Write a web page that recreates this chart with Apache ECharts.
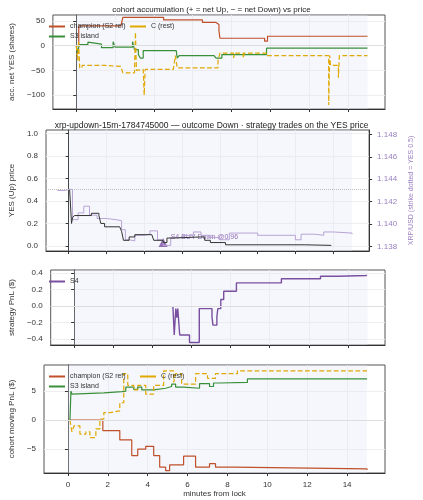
<!DOCTYPE html>
<html><head><meta charset="utf-8">
<script src="https://cdn.jsdelivr.net/npm/echarts@6/dist/echarts.min.js"></script>
<style>html,body{margin:0;background:#fff}#c{width:423px;height:500px}</style>
</head><body><div id="c"></div>
<script>
// panel 1: accumulated net YES shares
var champAccT = [0, 0.13, 2.3, 2.4, 4.5, 6.5, 7.2, 7.35, 7.4, 9.7, 9.85, 15];
var champAccV = [0, 40, 36, 57, 52, 47, 43, 30, 15, 9, 19, 19];
var s3AccT = [0, 0.08, 0.15, 0.6, 0.65, 1.3, 1.9, 2.0, 2.9, 3.0, 3.2, 3.3, 3.45, 5.15, 5.2, 5.3, 7.1, 7.2, 7.5, 9.8, 15];
var s3AccV = [0, -15, 2, 7, 3, -4, 8, -3, 8, -8, -18, -25, -10, -13, -25, -20, -18, -25, -18, -5, -5];
var cAccT = [0, 0.08, 0.12, 0.18, 0.3, 1.5, 2.3, 2.4, 3.0, 3.05, 3.1, 3.2, 3.45, 3.5, 3.55, 3.7, 5.0, 5.1, 5.2, 7.3, 7.4, 8.1, 8.15, 8.6, 8.65, 9.8, 13.0, 13.05, 13.1, 13.5, 13.55, 13.6, 15];
var cAccV = [0, -30, 10, -45, -40, -42, -40, -55, -52, 27, -50, -48, -52, -100, -48, -48, -45, -20, -45, -30, -15, -25, -15, -25, -15, -20, -120, -20, -40, -65, -20, -20, -20];
// panel 2: YES price and XRP
var yesT = [0.05, 0.1, 0.15, 0.2, 0.3, 1.2, 1.6, 1.7, 1.9, 2.7, 2.8, 2.9, 3.2, 3.5, 4.4, 4.5, 5.0, 5.2, 5.5, 7.0, 7.2, 7.5, 8.3, 12.5, 13.9];
var yesV = [0.5, 0.51, 0.2, 0.25, 0.27, 0.29, 0.27, 0.2, 0.17, 0.16, 0.13, 0.05, 0.08, 0.1, 0.09, 0.05, 0.03, 0.07, 0.08, 0.08, 0.05, 0.03, 0.01, 0.005, 0.005];
var xrpT = [-0.6, -0.2, 0.05, 0.2, 0.5, 0.8, 1.1, 1.5, 2.0, 2.5, 2.8, 3.0, 3.2, 3.5, 4.0, 4.3, 4.7, 5.0, 5.4, 6.0, 6.6, 7.0, 7.5, 8.0, 8.5, 9.5, 10.0, 11.5, 12.0, 12.3, 13.0, 13.5, 14.0, 15.0];
var xrpV = [1.1430, 1.1431, 1.1431, 1.1404, 1.1410, 1.1416, 1.1408, 1.1405, 1.1404, 1.1403, 1.1395, 1.1386, 1.1385, 1.1390, 1.1391, 1.1394, 1.1386, 1.1381, 1.1388, 1.1390, 1.1393, 1.1390, 1.1388, 1.1386, 1.1392, 1.1392, 1.1390, 1.1390, 1.1386, 1.1391, 1.1390, 1.1393, 1.1392, 1.1391];
var s4Trade = [5.0, 0.03];
var strike = 0.5;
// panel 3: strategy PnL
var s4T = [5.05, 5.1, 5.12, 5.2, 5.25, 5.3, 5.4, 5.9, 6.4, 7.05, 7.1, 7.3, 7.35, 7.5, 7.65, 8.3, 10.6, 12.6, 13.5, 14.95];
var s4V = [0, -0.02, -0.35, -0.03, -0.14, -0.03, -0.35, -0.44, -0.03, -0.13, -0.23, -0.13, -0.03, 0.08, 0.18, 0.28, 0.33, 0.36, 0.37, 0.38];
// panel 4: moving PnL
var champPnlT = [0.1, 1.75, 2.6, 3.2, 3.5, 3.9, 4.3, 4.6, 4.9, 5.1, 5.8, 6.4, 7.1, 7.4, 8.3, 15];
var champPnlV = [0, -1.8, -3.4, -6.1, -5, -4.5, -6.1, -8.1, -8.7, -7.7, -6.2, -8.1, -7.5, -8.1, -8.4, -8.6];
var s3PnlT = [0.1, 0.15, 0.2, 0.3, 1.8, 1.9, 2.7, 2.9, 3.3, 3.5, 3.7, 4.3, 4.4, 4.9, 5.2, 5.4, 5.8, 6.6, 7.1, 7.3, 7.6, 9.0, 15];
var s3PnlV = [0, 5, 4.5, 4.7, 4.6, 4.9, 5.0, 5.7, 5.3, 5.7, 5.2, 5.1, 5.5, 5.8, 6.2, 5.7, 5.5, 6.3, 5.8, 6.4, 6.5, 7.1, 7.0];
var cPnlT = [0.1, 0.2, 0.3, 0.6, 0.9, 1.1, 1.4, 1.6, 1.8, 2.1, 2.6, 2.8, 3.0, 3.3, 3.5, 3.9, 4.3, 4.8, 5.3, 5.4, 5.7, 6.4, 7.0, 7.4, 8.5, 15];
var cPnlV = [0, -2, -1, -2.4, -2, -3, -1.5, 0.2, 1.3, 1.6, 3, 8, 6, 5.2, 6, 4.5, 6, 8.5, 6.5, 8, 6.2, 8, 7.2, 8, 8.5, 8.6];
// tick labels
var xTicks = [0, 2, 4, 6, 8, 10, 12, 14];
var accTicks = [-100, -50, 0, 50];
var yesTicks = [0, 0.2, 0.4, 0.6, 0.8, 1.0];
var xrpTicks = [1.138, 1.140, 1.142, 1.144, 1.146, 1.148];
var s4Ticks = [-0.4, -0.2, 0, 0.2, 0.4];
var pnlTicks = [-5, 0, 5];

var RED = '#c0502a', GREEN = '#3a8f3a', GOLD = '#e0a800', PURPLE = '#7a4fa0', LPURPLE = '#b9a4d6';

function zip(t, v) {
	return t.map(function (x, i) { return [x, v[i]]; });
}
function minus(s) { return String(s).replace('-', '\u2212'); }

var grids = [
	{ left: 40, right: 38, top: 15, height: 94 },
	{ left: 40, right: 38, top: 130, height: 121 },
	{ left: 40, right: 38, top: 270, height: 75 },
	{ left: 40, right: 38, top: 365, height: 108 }
];
var xAxes = grids.map(function (g, i) {
	return {
		gridIndex: i, type: 'value', min: -1.2, max: 15.9,
		axisLine: { onZero: false, lineStyle: { color: '#333' } },
		axisTick: { show: true, length: 3, customValues: xTicks, lineStyle: { color: '#333' } },
		axisLabel: { show: i == 3, fontSize: 8, color: '#333', customValues: xTicks },
		splitLine: { show: true, lineStyle: { color: '#eee' } },
		name: i == 3 ? 'minutes from lock' : '', nameLocation: 'middle', nameGap: 15,
		nameTextStyle: { fontSize: 8, color: '#333' }
	};
});
function yAx(grid, min, max, ticks, name, fmt, opts) {
	var a = {
		gridIndex: grid, type: 'value', min: min, max: max,
		name: name, nameLocation: 'middle', nameGap: 26, nameTextStyle: { fontSize: 8, color: '#333' },
		axisLine: { show: true, lineStyle: { color: '#333' } },
		axisTick: { show: true, length: 3, customValues: ticks },
		axisLabel: { fontSize: 8, color: '#333', customValues: ticks, formatter: fmt },
		splitLine: { show: true, lineStyle: { color: '#eee' } }
	};
	for (var k in opts) a[k] = opts[k];
	return a;
}
var yAxes = [
	yAx(0, -128, 62, accTicks, 'acc. net YES (shares)', function (v) { return minus(v); }),
	yAx(1, -0.045, 1.03, yesTicks, 'YES (Up) price', function (v) { return v.toFixed(1); }),
	yAx(1, 1.1376, 1.1484, xrpTicks, 'XRP/USD (strike dotted = YES 0.5)', function (v) { return v.toFixed(3); }, {
		position: 'right', nameGap: 34, splitLine: { show: false },
		nameTextStyle: { fontSize: 7, color: '#9a80c0' }
	}),
	yAx(2, -0.47, 0.436, s4Ticks, 'strategy PnL ($)', function (v) { return minus(v.toFixed(1)); }),
	yAx(3, -9.1, 9.5, pnlTicks, 'cohort moving PnL ($)', function (v) { return minus(v); })
];
yAxes[2].axisLabel.color = '#9a80c0';

function stepLine(name, t, v, xi, yi, color, dashed, width) {
	return {
		name: name, type: 'line', xAxisIndex: xi, yAxisIndex: yi, step: 'end',
		data: zip(t, v), showSymbol: false, animation: false,
		lineStyle: { color: color, width: width || 1.2, type: dashed ? 'dashed' : 'solid' },
		itemStyle: { color: color }
	};
}
var shade = function () {
	return { silent: true, itemStyle: { color: 'rgba(225,232,245,0.35)' }, data: [[{ xAxis: 0 }, { xAxis: 15 }]] };
};
var zeroLine = { silent: true, symbol: 'none', label: { show: false }, lineStyle: { color: '#ddd', type: 'solid', width: 1 }, data: [{ yAxis: 0 }] };

var series = [];
var s = stepLine('champion (S2 ref)', champAccT, champAccV, 0, 0, RED);
s.markArea = shade(); s.markLine = zeroLine; series.push(s);
series.push(stepLine('S3 island', s3AccT, s3AccV, 0, 0, GREEN));
series.push(stepLine('C (rest)', cAccT, cAccV, 0, 0, GOLD, true));

series.push(stepLine('XRP', xrpT, xrpV, 1, 2, LPURPLE, false, 1));
s = stepLine('YES', yesT, yesV, 1, 1, '#333', false, 1);
s.markArea = shade();
s.markLine = { silent: true, symbol: 'none', label: { show: false }, lineStyle: { color: '#bbb', type: 'dotted', width: 1 }, data: [{ yAxis: strike }] };
series.push(s);
series.push({
	name: 'S4 trade', type: 'scatter', xAxisIndex: 1, yAxisIndex: 1, data: [s4Trade],
	symbol: 'triangle', symbolSize: 9, itemStyle: { color: PURPLE },
	label: { show: true, position: 'right', formatter: 'S4 BUY Down @0.96', fontSize: 7, color: PURPLE, offset: [-2, -5] }
});

s = stepLine('S4', s4T, s4V, 2, 3, PURPLE, false, 1.4);
s.markArea = shade(); s.markLine = zeroLine; series.push(s);

s = stepLine('champion (S2 ref)', champPnlT, champPnlV, 3, 4, RED);
s.markArea = shade(); s.markLine = zeroLine; series.push(s);
series.push(stepLine('S3 island', s3PnlT, s3PnlV, 3, 4, GREEN));
series.push(stepLine('C (rest)', cPnlT, cPnlV, 3, 4, GOLD, true));

function leg(left, top, data) {
	return {
		left: left, top: top, data: data, orient: 'vertical', itemWidth: 16, itemHeight: 2, itemGap: 3,
		icon: 'rect', selectedMode: false, textStyle: { fontSize: 7, color: '#333' }
	};
}

var chart = echarts.init(document.getElementById('c'));
chart.setOption({
	backgroundColor: '#fff',
	animation: false,
	title: [
		{ text: 'cohort accumulation (+ = net Up, \u2212 = net Down) vs price', left: 'center', top: 1, textStyle: { fontSize: 8, fontWeight: 'normal', color: '#222' } },
		{ text: 'xrp-updown-15m-1784745000 \u2014 outcome Down \u00b7 strategy trades on the YES price', left: 'center', top: 116, textStyle: { fontSize: 8.5, fontWeight: 'normal', color: '#222' } }
	],
	legend: [
		leg(44, 18, ['champion (S2 ref)', 'S3 island']),
		leg(125, 18, ['C (rest)']),
		leg(44, 273, ['S4']),
		leg(44, 368, ['champion (S2 ref)', 'S3 island']),
		leg(135, 368, ['C (rest)'])
	],
	grid: grids.map(function (g) { g.show = true; g.borderColor = '#555'; g.borderWidth = 1; return g; }),
	xAxis: xAxes,
	yAxis: yAxes,
	series: series
});
</script>
</body></html>
